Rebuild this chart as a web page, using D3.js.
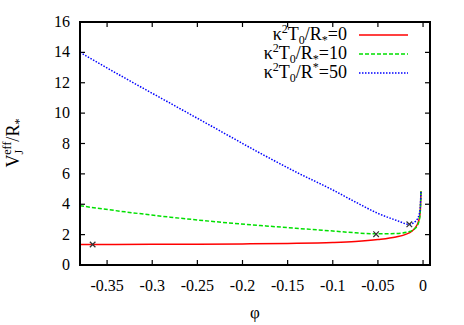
<!DOCTYPE html>
<html><head><meta charset="utf-8">
<script src="https://cdn.jsdelivr.net/npm/d3@7"></script>
<style>body{margin:0;background:#fff}svg{display:block}</style>
</head><body><svg id="c" width="464" height="325" style="font-family:'Liberation Serif','Times New Roman','DejaVu Serif',serif"></svg>
<script>
const xTicks = [-0.35,-0.3,-0.25,-0.2,-0.15,-0.1,-0.05,0];
const xTickLabels = ["-0.35","-0.3","-0.25","-0.2","-0.15","-0.1","-0.05","0"];
const yTicks = [0,2,4,6,8,10,12,14,16];
const seriesNames = ["k0","k10","k50"];
const phiRed   = [-0.38,-0.3,-0.25,-0.2,-0.15,-0.1,-0.075,-0.05,-0.03,-0.02,-0.012,-0.007,-0.004,-0.003,-0.0023];
const valRed   = [1.35,1.36,1.37,1.39,1.42,1.48,1.55,1.68,1.85,2.0,2.25,2.6,3.1,3.6,4.85];
const phiGreen = [-0.38,-0.33,-0.28,-0.23,-0.18,-0.13,-0.1,-0.075,-0.052,-0.03,-0.015,-0.008,-0.004,-0.003,-0.0023];
const valGreen = [3.9,3.5,3.15,2.85,2.6,2.37,2.24,2.12,2.05,2.07,2.2,2.45,3.0,3.6,4.85];
const phiBlue  = [-0.38,-0.33,-0.28,-0.23,-0.18,-0.14,-0.1,-0.075,-0.05,-0.03,-0.0152,-0.008,-0.004,-0.003,-0.0023];
const valBlue  = [14.0,12.3,10.65,9.0,7.35,6.1,4.94,4.15,3.4,2.95,2.68,2.9,3.4,3.9,4.85];
const markPhi  = [-0.366,-0.052,-0.0152];
const markVal  = [1.35,2.03,2.68];
const legendLabels = [
  [["κ",0],["2",-1],["T",0],["0",1],["/R",0],["*",1],["=0",0]],
  [["κ",0],["2",-1],["T",0],["0",1],["/R",0],["*",1],["=10",0]],
  [["κ",0],["2",-1],["T",0],["0",1],["/R",0],["*",-1],["=50",0]]
];
const colors = ["#ff0000","#00e000","#0000ff"];
const dashes = [null,"4,2","1.5,1.5"];

const FF = "'Liberation Serif','Times New Roman','DejaVu Serif',serif";
const svg = d3.select("#c");
const L=80,R=430,T=22,B=265;
const x = d3.scaleLinear().domain([-0.38,0.0077]).range([L,R]);
const y = d3.scaleLinear().domain([0,16]).range([B,T]);

const tl=5;
const g = svg.append("g").attr("stroke","#000").attr("stroke-width",1.2);
xTicks.forEach(t=>{
  g.append("line").attr("x1",x(t)).attr("x2",x(t)).attr("y1",B).attr("y2",B-tl);
  g.append("line").attr("x1",x(t)).attr("x2",x(t)).attr("y1",T).attr("y2",T+tl);
});
yTicks.forEach(t=>{
  g.append("line").attr("x1",L).attr("x2",L+tl).attr("y1",y(t)).attr("y2",y(t));
  g.append("line").attr("x1",R).attr("x2",R-tl).attr("y1",y(t)).attr("y2",y(t));
});
xTicks.forEach((t,i)=>{
  svg.append("text").attr("x",x(t)).attr("y",B+26).attr("text-anchor","middle")
    .attr("font-family",FF).attr("font-size",16).attr("fill","#000").text(xTickLabels[i]);
});
yTicks.forEach(t=>{
  svg.append("text").attr("x",L-10).attr("y",y(t)+5).attr("text-anchor","end")
    .attr("font-family",FF).attr("font-size",16).attr("fill","#000").text(t);
});
svg.append("text").attr("x",255).attr("y",318).attr("text-anchor","middle")
  .attr("font-family",FF).attr("font-size",17).attr("fill","#000").text("φ");
const yl = svg.append("text").attr("transform","translate(19,143) rotate(-90)")
  .attr("text-anchor","middle").attr("font-family",FF).attr("font-size",18).attr("fill","#000");
yl.append("tspan").text("V");
yl.append("tspan").attr("font-size",12).attr("dy",4).text("J");
yl.append("tspan").attr("font-size",12).attr("dx",-5).attr("dy",-12).text("eff");
yl.append("tspan").attr("dy",8).text("/R");
yl.append("tspan").attr("font-size",12).attr("dy",4).text("*");

const phis=[phiRed,phiGreen,phiBlue], vals=[valRed,valGreen,valBlue];
const line = d3.line().x(d=>x(d[0])).y(d=>y(d[1])).curve(d3.curveMonotoneX);
svg.append("clipPath").attr("id","cp").append("rect")
  .attr("x",L).attr("y",T).attr("width",R-L).attr("height",B-T);
seriesNames.forEach((n,i)=>{
  svg.append("path").datum(d3.zip(phis[i],vals[i])).attr("d",line)
    .attr("fill","none").attr("stroke",colors[i]).attr("stroke-width",1.5)
    .attr("stroke-dasharray",dashes[i]).attr("clip-path","url(#cp)");
});
const sym = d3.symbol().type(d3.symbolTimes).size(22);
markPhi.forEach((p,i)=>{
  svg.append("path").attr("d",sym()).attr("transform",`translate(${x(p)},${y(markVal[i])})`)
    .attr("fill","none").attr("stroke","#333").attr("stroke-width",1.2);
});
const ly=[35,54,73];
legendLabels.forEach((parts,i)=>{
  const t = svg.append("text").attr("x",347).attr("y",ly[i]+5).attr("text-anchor","end")
    .attr("font-family",FF).attr("font-size",18).attr("fill","#000");
  let prev=0;
  parts.forEach(([s,lev])=>{
    const fs = lev===0?18:12;
    const target = lev===0?0:(lev<0?-7:4);
    t.append("tspan").attr("font-size",fs).attr("dy",target-prev).text(s);
    prev=target;
  });
  svg.append("line").attr("x1",359).attr("x2",408).attr("y1",ly[i]).attr("y2",ly[i])
    .attr("stroke",colors[i]).attr("stroke-width",1.5).attr("stroke-dasharray",dashes[i]);
});
svg.append("rect").attr("x",L).attr("y",T).attr("width",R-L).attr("height",B-T)
  .attr("fill","none").attr("stroke","#000").attr("stroke-width",2);
</script></body></html>
